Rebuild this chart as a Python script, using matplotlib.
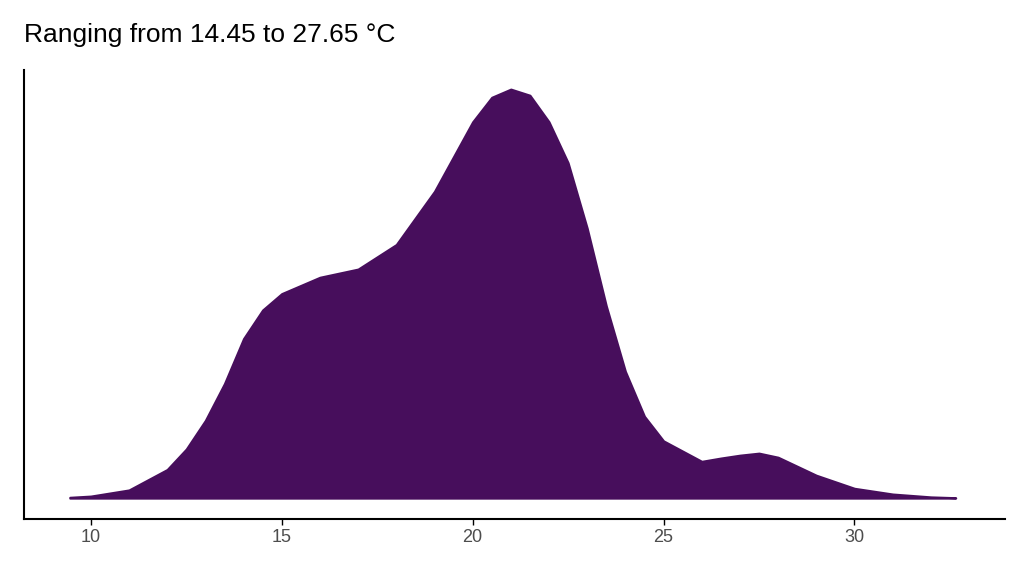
import matplotlib
matplotlib.use("Agg")
import matplotlib.pyplot as plt

plt.rcParams['font.family'] = ['Liberation Sans', 'DejaVu Sans']

# density curve (peak scaled to 1)
temp = [9.45, 10, 11, 12, 12.5, 13, 13.5, 14, 14.5, 15, 16, 17, 18, 19, 20, 20.5,
        21, 21.5, 22, 22.5, 23, 23.5, 24, 24.5, 25, 26, 26.5, 27, 27.5, 28, 29,
        30, 31, 32, 32.65]
density = [0.002, 0.005, 0.02, 0.07, 0.12, 0.19, 0.28, 0.39, 0.46, 0.50, 0.54,
           0.56, 0.62, 0.75, 0.92, 0.98, 1.0, 0.985, 0.92, 0.82, 0.66, 0.47,
           0.31, 0.20, 0.14, 0.09, 0.098, 0.105, 0.11, 0.10, 0.056, 0.024,
           0.01, 0.003, 0.001]
xticks = [10, 15, 20, 25, 30]

fig = plt.figure(figsize=(10.24, 5.76), dpi=100)
ax = fig.add_axes([0.0234, 0.099, 0.9576, 0.779])
ax.fill_between(temp, density, 0, color='#470E5C', linewidth=1.5, edgecolor='#470E5C')
ax.set_xlim(8.25, 33.93)
ax.set_ylim(-0.051, 1.046)
ax.set_yticks([])
ax.set_xticks(xticks)
ax.tick_params(axis='x', labelsize=13, colors='#4d4d4d', length=4, width=1)
ax.tick_params(axis='x', color='black')
for s in ['top', 'right']:
    ax.spines[s].set_visible(False)
for s in ['left', 'bottom']:
    ax.spines[s].set_linewidth(1.5)
fig.text(0.0234, 0.94, 'Ranging from 14.45 to 27.65 °C', fontsize=19, ha='left', va='center')
fig.savefig('out.png', dpi=100)
